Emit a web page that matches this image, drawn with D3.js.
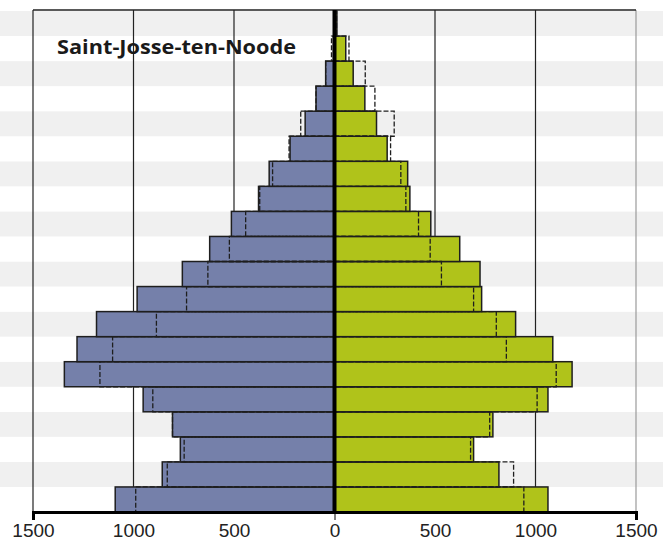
<!DOCTYPE html>
<html>
<head>
<meta charset="utf-8">
<script src="https://cdn.jsdelivr.net/npm/d3@7"></script>
<style>
  body { margin: 0; background: #fff; }
  svg { display: block; }
</style>
</head>
<body>
<div id="chart"></div>
<script>
// age groups, youngest first
var ages = ["0-4", "5-9", "10-14", "15-19", "20-24", "25-29", "30-34", "35-39", "40-44", "45-49",
            "50-54", "55-59", "60-64", "65-69", "70-74", "75-79", "80-84", "85-89", "90-94", "95+"];

// men (left) and women (right), with the dashed reference population
var men      = [1091, 857, 767, 806, 952, 1344, 1281, 1184, 982, 757, 621, 513, 378, 325, 221, 146, 92, 44, 5, 0];
var menRef   = [989, 832, 748, 806, 904, 1167, 1104, 886, 736, 630, 523, 442, 372, 308, 226, 168, 92, 44, 15, 3];
var women    = [1062, 818, 692, 788, 1062, 1182, 1086, 901, 732, 724, 623, 479, 375, 364, 262, 209, 151, 93, 56, 12];
var womenRef = [942, 891, 677, 772, 1008, 1103, 855, 805, 692, 532, 476, 418, 355, 330, 279, 297, 201, 153, 72, 10];

var tickValues = [-1500, -1000, -500, 0, 500, 1000, 1500];
var title = "Saint-Josse-ten-Noode";

var width = 663, height = 549;
var margin = {top: 10, right: 27, bottom: 37, left: 33};

var svg = d3.select("#chart")
    .append("svg")
    .attr("width", width)
    .attr("height", height);

var xScale = d3.scaleLinear()
    .domain([-1500, 1500])
    .range([margin.left, width - margin.right]);

var yScale = d3.scaleBand()
    .domain(ages.slice().reverse())
    .range([margin.top + 1, height - margin.bottom])
    .padding(0);

var rows = ages.map(function(a, i) {
    return {age: a, m: men[i], mr: menRef[i], w: women[i], wr: womenRef[i]};
});

// grey stripes on every other row, full page width
svg.append("g")
    .selectAll("rect")
    .data(rows)
    .enter()
    .append("rect")
    .attr("x", 0)
    .attr("width", width)
    .attr("y", function(d) { return yScale(d.age); })
    .attr("height", yScale.bandwidth())
    .attr("fill", function(d) { return yScale.domain().indexOf(d.age) % 2 == 0 ? "#f0f0f0" : "#fff"; });

// vertical gridlines
svg.append("g")
    .selectAll("line")
    .data(tickValues.filter(function(v) { return v != 0; }))
    .enter()
    .append("line")
    .attr("x1", function(d) { return xScale(d); })
    .attr("x2", function(d) { return xScale(d); })
    .attr("y1", margin.top)
    .attr("y2", height - margin.bottom)
    .attr("stroke", function(d) { return d == 1500 ? "#9a9a9a" : "#222"; })
    .attr("stroke-width", 1.2);

// top border
svg.append("line")
    .attr("x1", xScale(-1500))
    .attr("x2", xScale(1500))
    .attr("y1", margin.top)
    .attr("y2", margin.top)
    .attr("stroke", "#222")
    .attr("stroke-width", 1.5);

// men bars
svg.append("g")
    .selectAll("rect")
    .data(rows)
    .enter()
    .append("rect")
    .attr("x", function(d) { return xScale(-d.m); })
    .attr("width", function(d) { return xScale(0) - xScale(-d.m); })
    .attr("y", function(d) { return yScale(d.age); })
    .attr("height", yScale.bandwidth())
    .attr("fill", "#7580aa")
    .attr("stroke", "#1e1e1e")
    .attr("stroke-width", 1.5);

// women bars
svg.append("g")
    .selectAll("rect")
    .data(rows)
    .enter()
    .append("rect")
    .attr("x", xScale(0))
    .attr("width", function(d) { return xScale(d.w) - xScale(0); })
    .attr("y", function(d) { return yScale(d.age); })
    .attr("height", yScale.bandwidth())
    .attr("fill", "#b0c31a")
    .attr("stroke", "#1e1e1e")
    .attr("stroke-width", 1.5);

// dashed reference outlines
svg.append("g")
    .selectAll("rect")
    .data(rows)
    .enter()
    .append("rect")
    .attr("x", function(d) { return xScale(-d.mr); })
    .attr("width", function(d) { return xScale(0) - xScale(-d.mr); })
    .attr("y", function(d) { return yScale(d.age); })
    .attr("height", yScale.bandwidth())
    .attr("fill", "none")
    .attr("stroke", "#1e1e1e")
    .attr("stroke-width", 1.3)
    .attr("stroke-dasharray", "5,2");

svg.append("g")
    .selectAll("rect")
    .data(rows)
    .enter()
    .append("rect")
    .attr("x", xScale(0))
    .attr("width", function(d) { return xScale(d.wr) - xScale(0); })
    .attr("y", function(d) { return yScale(d.age); })
    .attr("height", yScale.bandwidth())
    .attr("fill", "none")
    .attr("stroke", "#1e1e1e")
    .attr("stroke-width", 1.3)
    .attr("stroke-dasharray", "5,2");

// thick zero line
svg.append("line")
    .attr("x1", xScale(0))
    .attr("x2", xScale(0))
    .attr("y1", margin.top)
    .attr("y2", height - margin.bottom)
    .attr("stroke", "#000")
    .attr("stroke-width", 4);

// x axis
var axis = svg.append("g")
    .attr("transform", "translate(0," + (height - margin.bottom) + ")")
    .call(d3.axisBottom(xScale)
        .tickValues(tickValues)
        .tickSize(8)
        .tickPadding(4)
        .tickFormat(function(d) { return Math.abs(d); }));

axis.select(".domain")
    .attr("stroke", "#000")
    .attr("stroke-width", 3);

axis.selectAll(".tick line")
    .attr("stroke", "#000")
    .attr("stroke-width", function(d) { return Math.abs(d) == 1500 ? 2 : 1; })
    .attr("opacity", function(d) { return Math.abs(d) == 1500 || d == 0 ? 1 : 0; });

axis.selectAll(".tick text")
    .attr("fill", "#222")
    .attr("font-family", "Liberation Sans Narrow, Liberation Sans, sans-serif")
    .attr("font-size", 19);

// title
svg.append("text")
    .attr("x", 57)
    .attr("y", 54)
    .attr("fill", "#1a1a1a")
    .attr("font-family", "Open Sans, sans-serif")
    .attr("font-weight", "bold")
    .attr("font-size", 20)
    .attr("textLength", 239)
    .attr("lengthAdjust", "spacingAndGlyphs")
    .text(title);
</script>
</body>
</html>
